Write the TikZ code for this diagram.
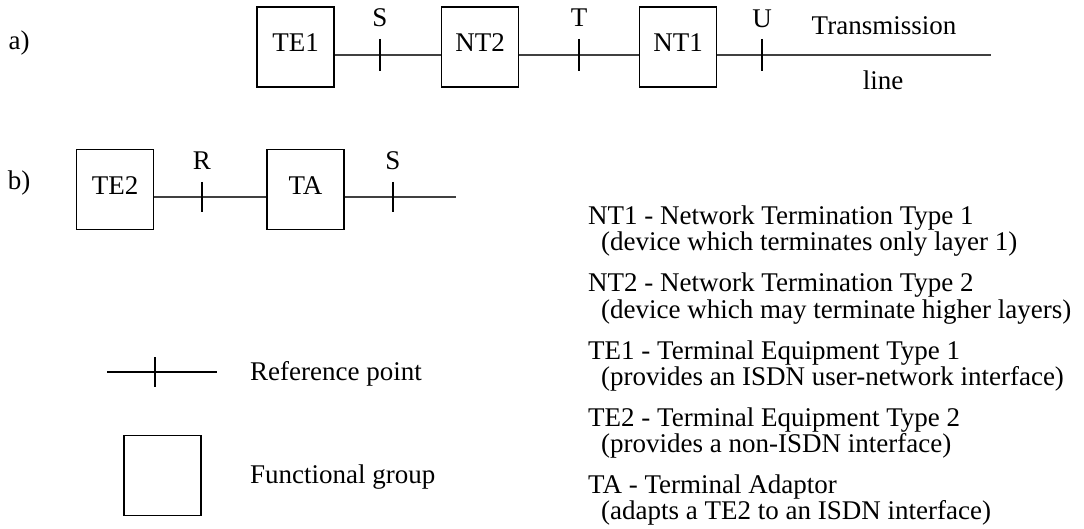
\documentclass[tikz,border=0pt]{standalone}
\usepackage{fontspec}
\setmainfont{Liberation Serif}
\usetikzlibrary{calc}
\begin{document}
\begin{tikzpicture}[x=1pt,y=-1pt,
  every node/.style={font=\fontsize{27}{29}\selectfont},
  fgroup/.style={draw, line width=1.1pt, minimum width=77pt, minimum height=80pt, inner sep=0pt, text height=18pt, text depth=8pt},
  wire/.style={line width=1.1pt, draw=black!75},
  tick/.style={line width=1.1pt},
  lbl/.style={anchor=base, inner sep=0pt},
  txt/.style={anchor=base west, inner sep=0pt}]
\useasboundingbox (0,0) rectangle (1084,529);
% a)
\node[lbl] (la) at (19,50) {a)};
\node[fgroup] (te1) at (295.5,47) {TE1};
\node[fgroup] (nt2) at (480,47) {NT2};
\node[fgroup] (nt1) at (678,47) {NT1};
\coordinate (pS) at (380,55);
\coordinate (pT) at (579,55);
\coordinate (pU) at (762,55);
\coordinate (lineend) at (991,55);
\draw[wire] (te1.east |- pS) -- (nt2.west |- pS);
\draw[wire] (nt2.east |- pT) -- (nt1.west |- pT);
\draw[wire] (nt1.east |- pU) -- (lineend);
\foreach \p in {pS,pT,pU} \draw[tick] ($(\p)+(0,-16)$) -- ($(\p)+(0,16)$);
\node[lbl] (lS) at (380,27) {S};
\node[lbl] (lT) at (579,27) {T};
\node[lbl] (lU) at (762,28) {U};
\node[lbl] (ltr) at (884,35) {Transmission};
\node[lbl] (lline) at (883,90) {line};
% b)
\node[lbl] (lb) at (19,190) {b)};
\node[fgroup] (te2) at (115,189.5) {TE2};
\node[fgroup] (ta) at (305.5,189.5) {TA};
\coordinate (pR) at (202,197);
\coordinate (pS2) at (393,197);
\coordinate (lineendb) at (456,197);
\draw[wire] (te2.east |- pR) -- (ta.west |- pR);
\draw[wire] (ta.east |- pS2) -- (lineendb);
\foreach \p in {pR,pS2} \draw[tick] ($(\p)+(0,-15)$) -- ($(\p)+(0,15)$);
\node[lbl] (lR) at (202,170) {R};
\node[lbl] (lS2) at (393,170) {S};
% legend left
\coordinate (rpa) at (107,372);
\coordinate (rpb) at (217,372);
\coordinate (rpt) at (155,372);
\draw[tick] (rpa) -- (rpb);
\draw[tick] ($(rpt)+(0,-15)$) -- ($(rpt)+(0,15)$);
\node[txt] (lrp) at (250,380) {Reference point};
\node[fgroup] (fg) at (162.5,475.5) {};
\node[txt] (lfg) at (250,483) {Functional group};
% legend right
\node[txt] (d1a) at (588,225) {NT1 - Network Termination Type 1};
\node[txt] (d1b) at (601,251) {(device which terminates only layer 1)};
\node[txt] (d2a) at (588,292) {NT2 - Network Termination Type 2};
\node[txt] (d2b) at (601,318) {(device which may terminate higher layers)};
\node[txt] (d3a) at (588,359) {TE1 - Terminal Equipment Type 1};
\node[txt] (d3b) at (601,385) {(provides an ISDN user-network interface)};
\node[txt] (d4a) at (588,426) {TE2 - Terminal Equipment Type 2};
\node[txt] (d4b) at (601,452) {(provides a non-ISDN interface)};
\node[txt] (d5a) at (588,493) {TA - Terminal Adaptor};
\node[txt] (d5b) at (601,519) {(adapts a TE2 to an ISDN interface)};
\end{tikzpicture}
\end{document}
